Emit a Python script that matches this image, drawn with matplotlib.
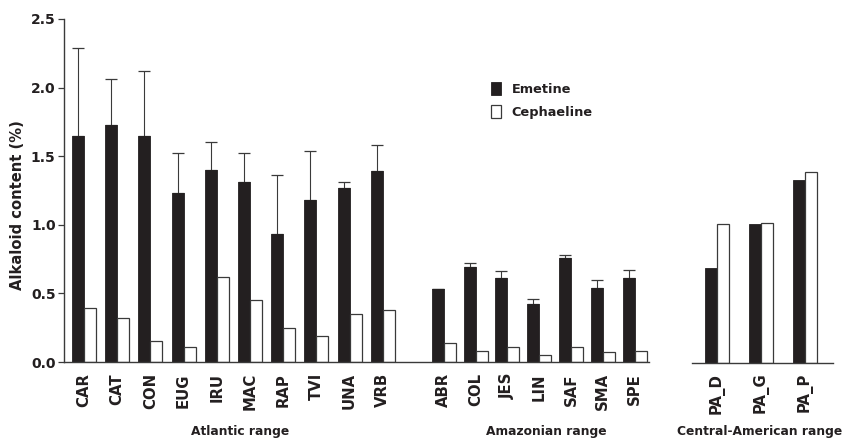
import matplotlib
matplotlib.use("Agg")
import matplotlib.pyplot as plt
import numpy as np

plt.rcParams['font.family'] = ['DejaVu Sans']
plt.rcParams['font.weight'] = 'bold'

# ---- data ----
sites_atl = ['CAR', 'CAT', 'CON', 'EUG', 'IRU', 'MAC', 'RAP', 'TVI', 'UNA', 'VRB']
eme_atl = [1.65, 1.73, 1.65, 1.23, 1.40, 1.31, 0.93, 1.18, 1.27, 1.39]
eme_atl_err = [0.64, 0.33, 0.47, 0.29, 0.20, 0.21, 0.43, 0.36, 0.04, 0.19]
cep_atl = [0.39, 0.32, 0.15, 0.11, 0.62, 0.45, 0.25, 0.19, 0.35, 0.38]

sites_ama = ['ABR', 'COL', 'JES', 'LIN', 'SAF', 'SMA', 'SPE']
eme_ama = [0.53, 0.69, 0.61, 0.42, 0.76, 0.54, 0.61]
eme_ama_err = [0.005, 0.03, 0.05, 0.04, 0.02, 0.06, 0.06]
cep_ama = [0.14, 0.08, 0.11, 0.05, 0.11, 0.07, 0.08]

sites_cen = ['PA_D', 'PA_G', 'PA_P']
eme_cen = [0.69, 1.01, 1.33]
cep_cen = [1.01, 1.02, 1.39]

group_labels = ['Atlantic range', 'Amazonian range', 'Central-American range']
series_labels = ['Emetine', 'Cephaeline']
yticks = [0.0, 0.5, 1.0, 1.5, 2.0, 2.5]

# ---- style ----
DARK = '#231f20'
EDGE = '#3a3a3a'
W = 0.36
TICKFS = 10.7

fig = plt.figure(figsize=(8.43, 4.41), dpi=100)

# positions (layout)
pos_atl = np.arange(len(sites_atl)) * 1.0
pos_ama = 10.84 + np.arange(len(sites_ama)) * 0.958

ax = fig.add_axes([64/843, 1 - 362/441, 585/843, 343/441])
pos_main = np.concatenate([pos_atl, pos_ama])
eme_main = eme_atl + eme_ama
err_main = eme_atl_err + eme_ama_err
cep_main = cep_atl + cep_ama
sites_main = sites_atl + sites_ama

ax.bar(pos_main - W/2, eme_main, W, color=DARK, edgecolor=DARK, linewidth=0.6,
       label=series_labels[0], zorder=2)
ax.bar(pos_main + W/2, cep_main, W, color='white', edgecolor=EDGE, linewidth=0.9,
       label=series_labels[1], zorder=2)
ax.errorbar(pos_main - W/2, eme_main, yerr=[np.zeros(len(err_main)), err_main],
            fmt='none', ecolor=EDGE, elinewidth=0.8, capsize=4, capthick=0.9, zorder=1)

ax.set_xlim(-0.602, 17.02)
ax.set_ylim(0, 2.5)
ax.set_yticks(yticks)
ax.set_yticklabels([f'{v:.1f}' for v in yticks])
ax.set_xticks(pos_main)
ax.set_xticklabels(sites_main, rotation=90, fontsize=TICKFS, fontweight='bold', color=DARK)
ax.tick_params(axis='x', length=0, pad=8)
ax.tick_params(axis='y', length=4, width=0.9, color=EDGE, labelsize=10, pad=2,
               labelcolor=DARK)
for s in ['top', 'right']:
    ax.spines[s].set_visible(False)
for s in ['left', 'bottom']:
    ax.spines[s].set_color(EDGE)
    ax.spines[s].set_linewidth(1.0)
ax.set_ylabel('Alkaloid content (%)', fontsize=10.6, fontweight='bold', color=DARK)
ax.yaxis.set_label_coords(-0.066, 0.458)

leg = ax.legend(loc='upper left', bbox_to_anchor=(0.71, 0.85), frameon=False,
                fontsize=9.3, handlelength=0.75, handleheight=1.2, handletextpad=0.85,
                labelspacing=0.7)
for t in leg.get_texts():
    t.set_color(DARK)

# Central-American panel
ax2 = fig.add_axes([692.3/843, 1 - 363/441, 140.4/843, 344/441])
pos_cen = np.arange(len(sites_cen)) * 1.33
ax2.bar(pos_cen - W/2, eme_cen, W, color=DARK, edgecolor=DARK, linewidth=0.6, zorder=2)
ax2.bar(pos_cen + W/2, cep_cen, W, color='white', edgecolor=EDGE, linewidth=0.9, zorder=2)
ax2.set_xlim(-0.735, 3.494)
ax2.set_ylim(0, 2.5)
ax2.set_yticks([])
ax2.set_xticks(pos_cen)
ax2.set_xticklabels(sites_cen, rotation=90, fontsize=TICKFS, fontweight='bold', color=DARK)
ax2.tick_params(axis='x', length=0, pad=7)
for s in ['top', 'right', 'left']:
    ax2.spines[s].set_visible(False)
ax2.spines['bottom'].set_color(EDGE)
ax2.spines['bottom'].set_linewidth(1.0)

# group labels
fig.text(240/843, 1 - 431/441, group_labels[0], ha='center', va='center',
         fontsize=8.8, fontweight='bold', color=DARK)
fig.text(546/843, 1 - 431/441, group_labels[1], ha='center', va='center',
         fontsize=8.8, fontweight='bold', color=DARK)
fig.text(760/843, 1 - 431/441, group_labels[2], ha='center', va='center',
         fontsize=8.8, fontweight='bold', color=DARK)

fig.savefig('out.png', dpi=100)
